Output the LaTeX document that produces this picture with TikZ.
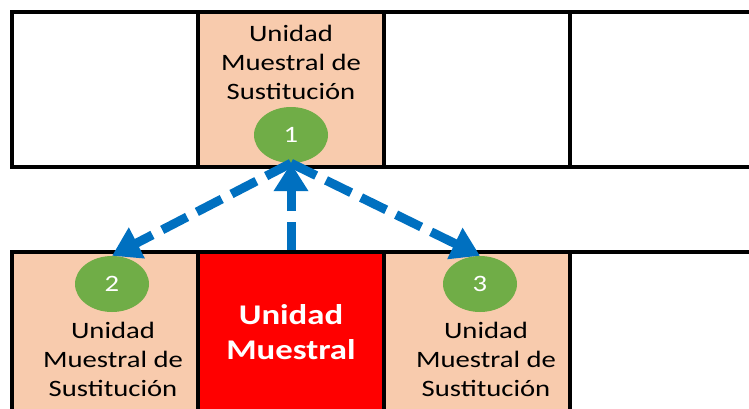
\documentclass[tikz,border=0pt]{standalone}
\usepackage{fontspec}
\setmainfont[FakeStretch=1.22]{Carlito}
\usetikzlibrary{arrows.meta,shapes.geometric,positioning}

\definecolor{peach}{HTML}{F8CBAD}
\definecolor{leafgreen}{HTML}{70AD47}
\definecolor{azul}{HTML}{0070C0}
\definecolor{rojo}{HTML}{FF0000}

\tikzset{
  cell/.style={draw=black, line width=4pt, minimum width=186pt, minimum height=155pt,
               inner sep=0pt, anchor=north west},
  sust/.style={cell, fill=peach},
  txt/.style={align=center, text=black, font=\fontsize{23.5}{29}\selectfont},
  num/.style={ellipse, fill=leafgreen, minimum width=74pt, minimum height=56pt,
              inner sep=0pt, text=white, font=\fontsize{23.5}{29}\selectfont},
  flecha/.style={draw=azul, line width=9pt, dash pattern=on 28pt off 11pt,
                 -{Triangle[length=28pt,width=33pt]}},
}

\begin{document}
\begin{tikzpicture}[x=1pt,y=-1pt]
    \useasboundingbox (0,0) rectangle (749,408);
    \clip (0,0) rectangle (749,408);

    % top row
    \node[cell]  (a1) at (10,10) {};
    \node[sust]  (a2) at (196,10) {};
    \node[cell]  (a3) at (382,10) {};
    \node[cell]  (a4) at (568,10) {};

    % bottom row
    \node[sust, minimum height=160pt] (b1) at (10,250) {};
    \node[cell, minimum height=160pt, fill=rojo, text=white, align=center,
          font=\fontsize{28.5}{35}\selectfont\bfseries] (um) at (196,250) {Unidad\\Muestral};
    \node[sust, minimum height=160pt] (b3) at (382,250) {};
    \node[cell, minimum height=160pt] (b4) at (568,250) {};

    \node[txt] (t1) at (291,62)  {Unidad\\Muestral de\\Sustitución};
    \node[txt] (t2) at (113,359) {Unidad\\Muestral de\\Sustitución};
    \node[txt] (t3) at (486,359) {Unidad\\Muestral de\\Sustitución};

    \node[num] (n1) at (291,135) {1};
    \node[num] (n2) at (112,284) {2};
    \node[num] (n3) at (480,284) {3};

%   arrows on top of everything
    \draw[flecha] (um.north) -- (n1.south);
    \draw[flecha] (n1.south) -- (n2.north);
    \draw[flecha] (n1.south) -- (n3.north);

\end{tikzpicture}
\end{document}
